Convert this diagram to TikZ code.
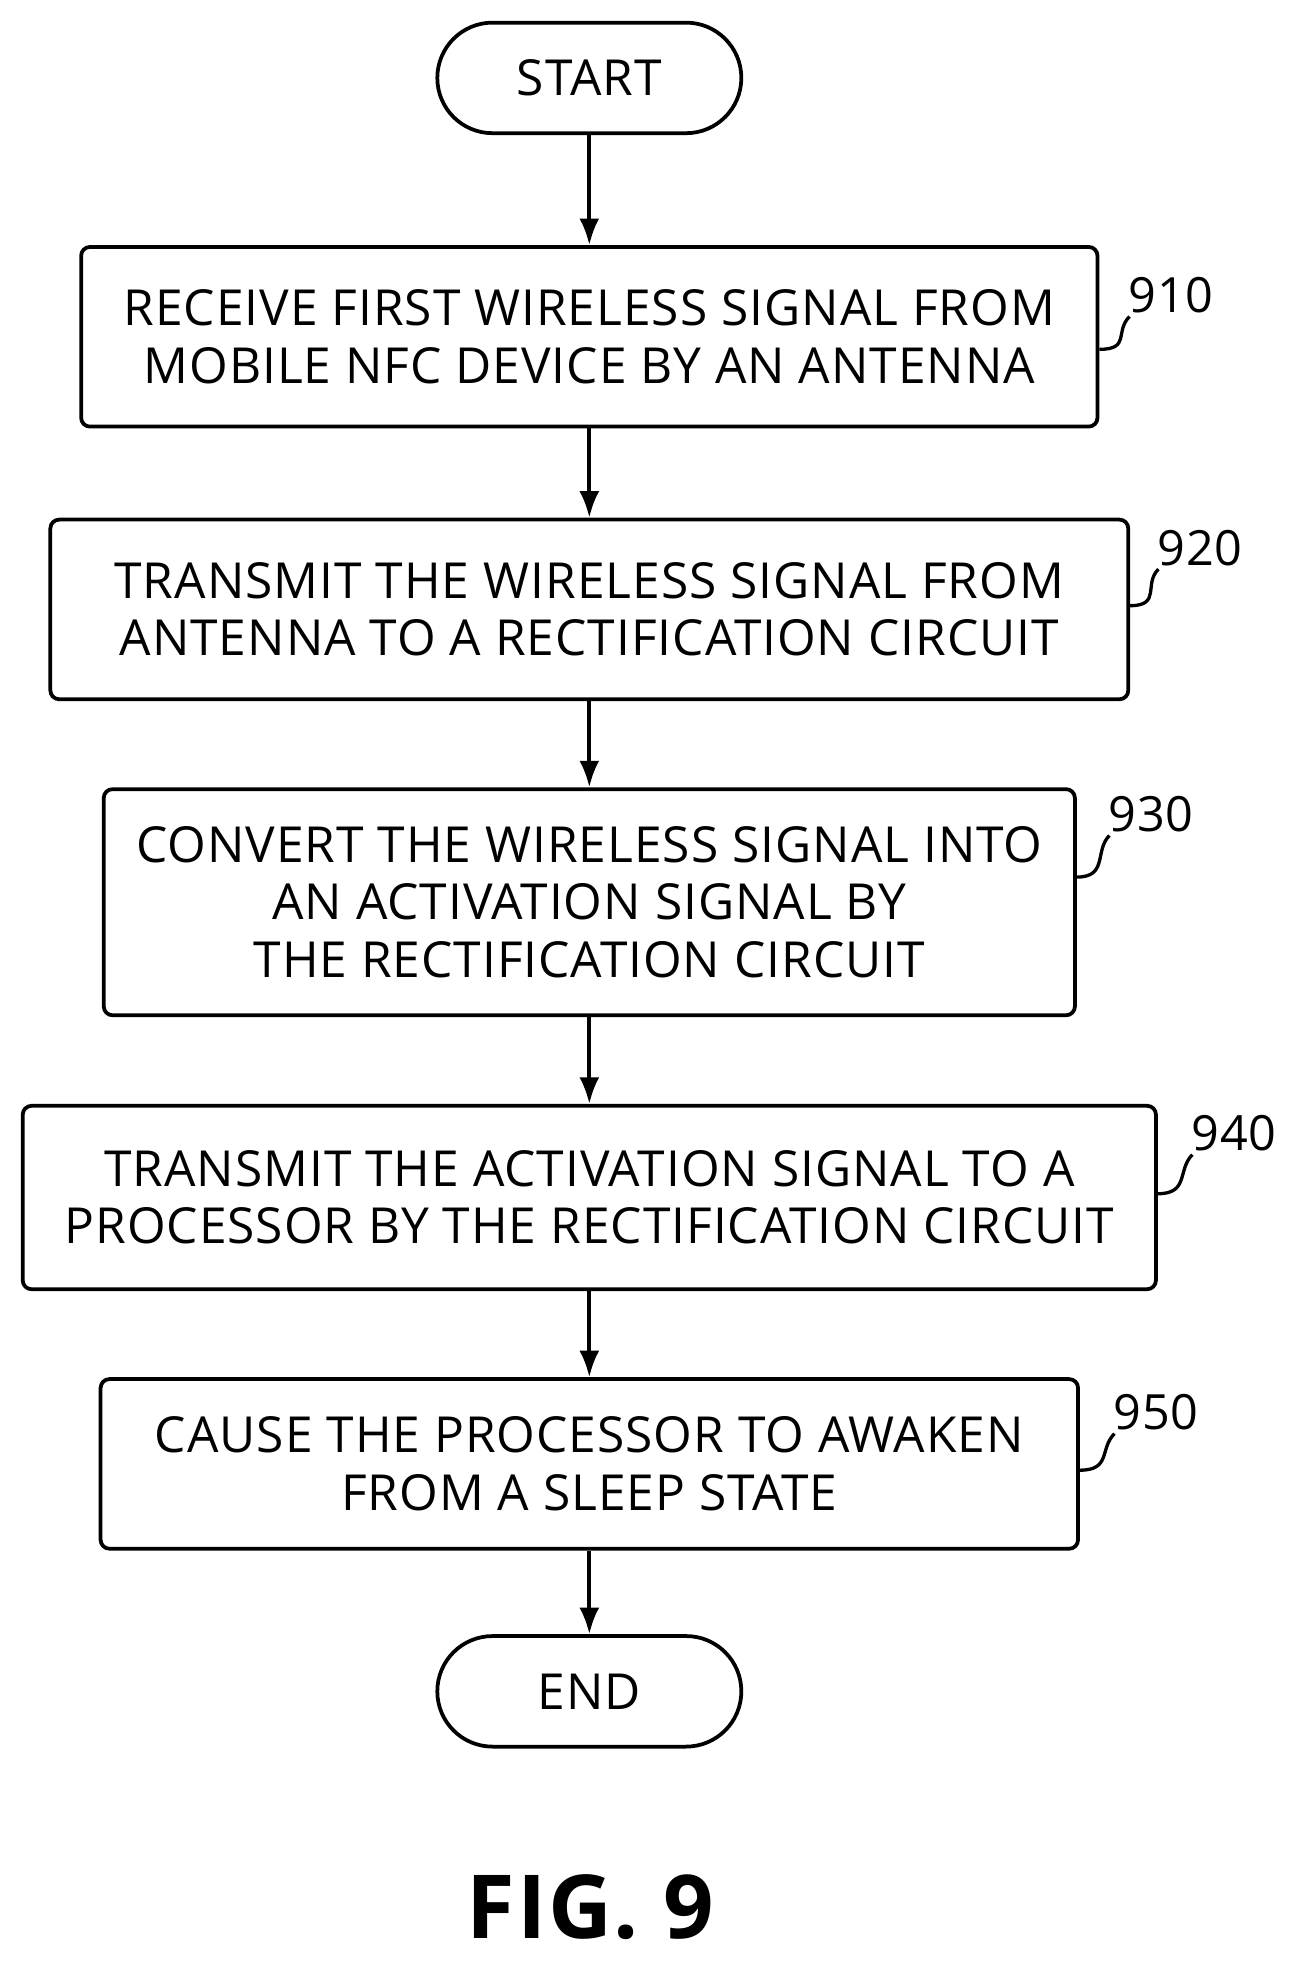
\documentclass[tikz,border=0pt]{standalone}
\usepackage{fontspec}
\setmainfont{Open Sans}[LetterSpace=2]
\usetikzlibrary{arrows.meta}
\tikzset{
    procbox/.style={draw,line width=1.7pt,rounded corners=4pt,align=center,font=\fontsize{22.5}{26}\selectfont},
    term/.style={draw,line width=1.7pt,rounded corners=0.88cm,minimum width=4.84cm,minimum height=1.76cm,font=\fontsize{22.5}{26}\selectfont},
    flow/.style={line width=1.7pt,-{Latex[length=12pt,width=9pt]}},
    tag/.style={font=\fontsize{22}{26}\selectfont}
}
\begin{document}
\begin{tikzpicture}[x=0.02cm,y=-0.02cm]
    \useasboundingbox (0,0) rectangle (1030,1563);
    \node[term] (start) at (469,62) {START};
    \node[procbox,minimum width=16.18cm,minimum height=2.86cm] (s910) at (469,268)
        {RECEIVE FIRST WIRELESS SIGNAL FROM\\MOBILE NFC DEVICE BY AN ANTENNA};
    \node[procbox,minimum width=17.16cm,minimum height=2.86cm] (s920) at (469,485)
        {TRANSMIT THE WIRELESS SIGNAL FROM\\ANTENNA TO A RECTIFICATION CIRCUIT};
    \node[procbox,minimum width=15.46cm,minimum height=3.6cm] (s930) at (469,718)
        {CONVERT THE WIRELESS SIGNAL INTO\\AN ACTIVATION SIGNAL BY\\THE RECTIFICATION CIRCUIT};
    \node[procbox,minimum width=18.04cm,minimum height=2.92cm] (s940) at (469,953)
        {TRANSMIT THE ACTIVATION SIGNAL TO A\\PROCESSOR BY THE RECTIFICATION CIRCUIT};
    \node[procbox,minimum width=15.56cm,minimum height=2.7cm] (s950) at (469,1165)
        {CAUSE THE PROCESSOR TO AWAKEN\\FROM A SLEEP STATE};
    \node[term] (end) at (469,1346) {END};
    \draw[flow] (start) -- (s910);
    \draw[flow] (s910) -- (s920);
    \draw[flow] (s920) -- (s930);
    \draw[flow] (s930) -- (s940);
    \draw[flow] (s940) -- (s950);
    \draw[flow] (s950) -- (end);
    % step numbers
    \foreach \n/\bx/\y/\lx/\ly in {910/s910/278/932/235,920/s920/482/955/436,930/s930/698/916/648,940/s940/950/982/902,950/s950/1170/920/1124}{
        \node[tag] (t\n) at (\lx,\ly) {\n};
        \draw[line width=1.5pt] (\bx.east |- 0,\y) .. controls +(25,0) and +(-12,12) .. ([xshift=4pt,yshift=2pt]t\n.south west);
    }
    \node[font=\bfseries\fontsize{40}{46}\selectfont] (fig) at (470,1518) {FIG. 9};
\end{tikzpicture}
\end{document}
